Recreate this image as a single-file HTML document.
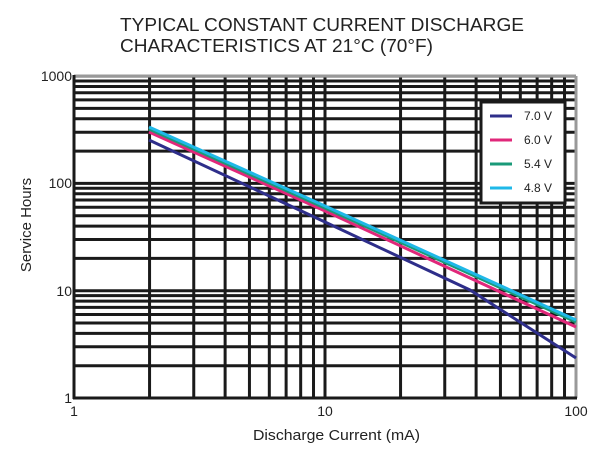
<!DOCTYPE html>
<html><head><style>
body{margin:0;background:#fff;width:606px;height:449px;overflow:hidden;font-family:"Liberation Sans",sans-serif;}
</style></head><body>
<svg width="606" height="449" xmlns="http://www.w3.org/2000/svg" font-family="Liberation Sans, sans-serif">
<text x="120" y="31" font-size="18" fill="#222" textLength="404" lengthAdjust="spacingAndGlyphs">TYPICAL CONSTANT CURRENT DISCHARGE</text>
<text x="120" y="52" font-size="18" fill="#222" textLength="313" lengthAdjust="spacingAndGlyphs">CHARACTERISTICS AT 21°C (70°F)</text>
<g id="grid" stroke="#1a1a1a" stroke-width="3"></g>
<line x1="74" y1="76" x2="576" y2="76" stroke="#999" stroke-width="3"/>
<line x1="576" y1="76" x2="576" y2="398" stroke="#999" stroke-width="3"/>
<line x1="74" y1="75" x2="74" y2="399" stroke="#1a1a1a" stroke-width="3"/>
<line x1="73" y1="398" x2="577" y2="398" stroke="#1a1a1a" stroke-width="3"/>
<g fill="none" stroke-width="3">
<polyline points="149,140 325,222 470,290 576,358" stroke="#2e2e8a"/>
<polyline points="149,132 325,211 576,327" stroke="#e0287a"/>
<polyline points="149,129 325,208 576,322" stroke="#1a9a78"/>
<polyline points="149,127 325,206 576,320" stroke="#1fb8e8"/>
</g>
<rect x="481" y="102" width="84" height="101" fill="#fff" stroke="#1a1a1a" stroke-width="3"/>
<g stroke-width="3">
<line x1="490" y1="116" x2="512" y2="116" stroke="#2e2e8a"/>
<line x1="490" y1="140" x2="512" y2="140" stroke="#e0287a"/>
<line x1="490" y1="164" x2="512" y2="164" stroke="#1a9a78"/>
<line x1="490" y1="188" x2="512" y2="188" stroke="#1fb8e8"/>
</g>
<g font-size="12" fill="#222">
<text x="524" y="120">7.0 V</text>
<text x="524" y="144">6.0 V</text>
<text x="524" y="168">5.4 V</text>
<text x="524" y="192">4.8 V</text>
</g>
<g font-size="14" fill="#222" text-anchor="end">
<text x="72" y="81">1000</text>
<text x="72" y="188">100</text>
<text x="72" y="296">10</text>
<text x="72" y="403">1</text>
</g>
<g font-size="14" fill="#222" text-anchor="middle">
<text x="74" y="416">1</text>
<text x="325" y="416">10</text>
<text x="576" y="416">100</text>
</g>
<text x="253" y="440" font-size="15" fill="#222" textLength="167" lengthAdjust="spacingAndGlyphs">Discharge Current (mA)</text>
<text transform="translate(31,225) rotate(-90)" font-size="15" fill="#222" text-anchor="middle">Service Hours</text>
</svg>
<script>
var g=document.getElementById('grid'),s='';
for(var d=0;d<2;d++)for(var k=2;k<=10;k++){var x=74+(d+Math.log10(k))*251;s+='<line x1="'+x+'" y1="76" x2="'+x+'" y2="398"/>';}
for(var d=0;d<3;d++)for(var k=2;k<=10;k++){var y=398-(d+Math.log10(k))*107.3;s+='<line x1="74" y1="'+y+'" x2="576" y2="'+y+'"/>';}
g.innerHTML=s;
</script>
</body></html>
